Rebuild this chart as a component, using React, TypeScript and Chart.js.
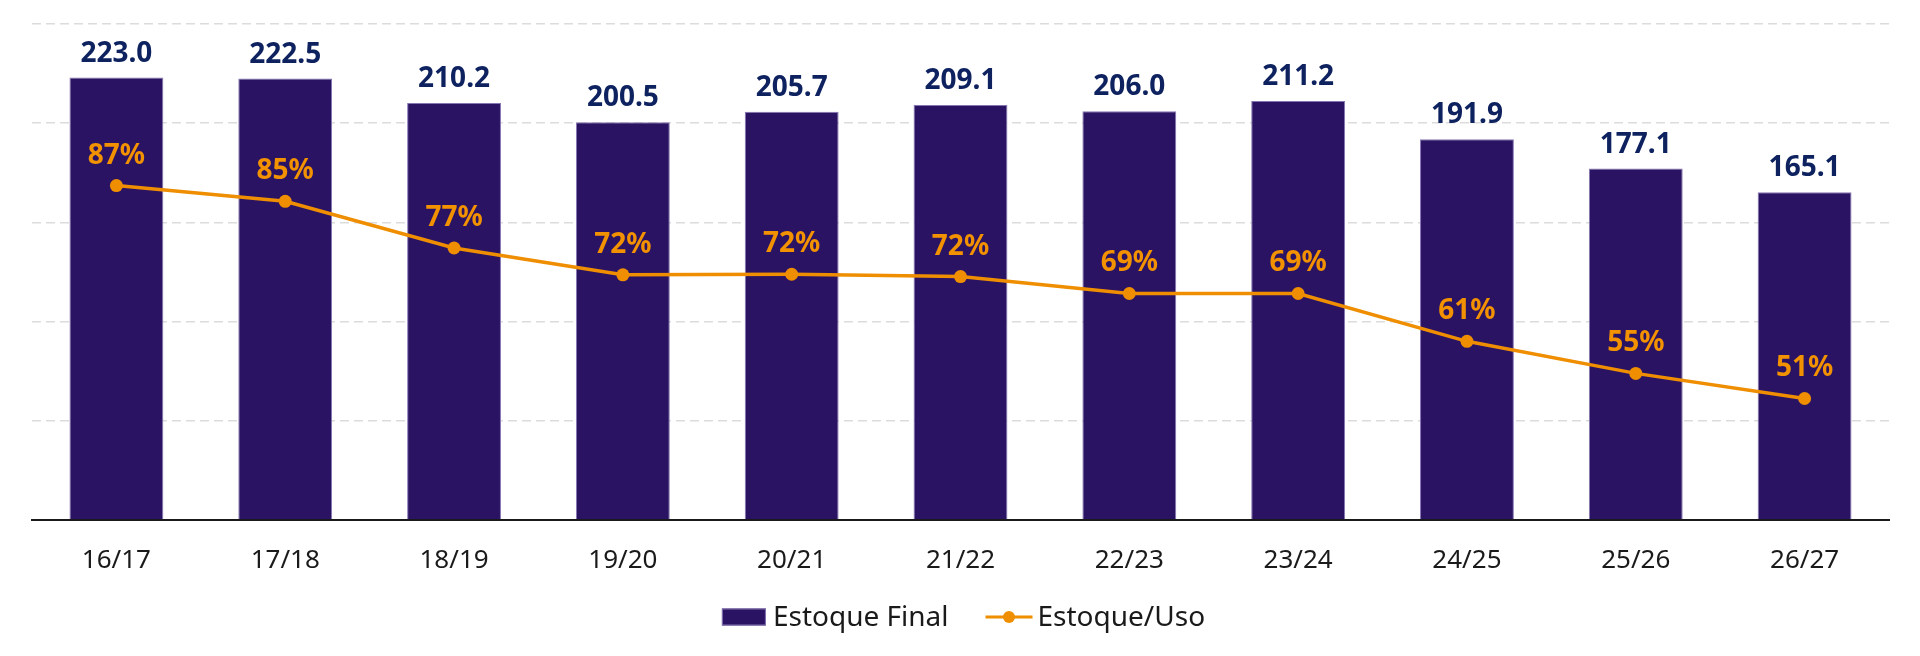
import { useEffect, useRef } from "react";
import { Chart, registerables } from "chart.js";

Chart.register(...registerables);

// dados
const safras = ["16/17", "17/18", "18/19", "19/20", "20/21", "21/22", "22/23", "23/24", "24/25", "25/26", "26/27"];
const estoqueFinal = [223.0, 222.5, 210.2, 200.5, 205.7, 209.1, 206.0, 211.2, 191.9, 177.1, 165.1];
const estoqueUso = [87.3, 84.6, 76.6, 72.0, 72.1, 71.7, 68.8, 68.8, 60.6, 55.1, 50.8];

const ROXO = "#2B1363";
const BORDA_ROXO = "#8576B3";
const LARANJA = "#EE8E00";
const LARANJA_TEXTO = "#F39200";
const AZUL_TEXTO = "#0E2260";
const TEXTO = "#1a1a1a";

// rótulos de valor em cima das barras e dos pontos
const rotulos = {
  id: "rotulos",
  afterDatasetsDraw(chart: Chart) {
    const ctx = chart.ctx;
    ctx.save();
    ctx.textAlign = "center";
    ctx.textBaseline = "alphabetic";
    ctx.font = "bold 28px 'Noto Sans'";
    chart.getDatasetMeta(0).data.forEach((bar: any, i: number) => {
      ctx.fillStyle = AZUL_TEXTO;
      ctx.fillText(estoqueFinal[i].toFixed(1), bar.x, bar.y - 16);
    });
    chart.getDatasetMeta(1).data.forEach((pt: any, i: number) => {
      ctx.fillStyle = LARANJA_TEXTO;
      ctx.fillText(`${Math.round(estoqueUso[i])}%`, pt.x, pt.y - 22);
    });
    ctx.restore();
  },
};

// legenda desenhada à mão (caixa da barra e linha com ponto)
const legenda = {
  id: "legenda",
  afterDraw(chart: Chart) {
    const ctx = chart.ctx;
    const nomes = chart.data.datasets.map((d: any) => d.label as string);
    ctx.save();
    ctx.font = "28px 'Noto Sans'";
    ctx.textBaseline = "middle";
    ctx.textAlign = "left";
    const w1 = ctx.measureText(nomes[0]).width;
    const w2 = ctx.measureText(nomes[1]).width;
    const total = 44 + 7 + w1 + 37 + 47 + 5 + w2;
    const cx = (chart.chartArea.left + chart.chartArea.right) / 2 + 3;
    const y = 617;
    let x = cx - total / 2;

    ctx.fillStyle = ROXO;
    ctx.fillRect(x, y - 8.5, 44, 17);
    ctx.strokeStyle = BORDA_ROXO;
    ctx.lineWidth = 1;
    ctx.strokeRect(x + 0.5, y - 8, 43, 16);
    x += 44 + 7;
    ctx.fillStyle = TEXTO;
    ctx.fillText(nomes[0], x, y + 1);
    x += w1 + 37;

    ctx.strokeStyle = LARANJA;
    ctx.lineWidth = 3;
    ctx.beginPath();
    ctx.moveTo(x, y);
    ctx.lineTo(x + 47, y);
    ctx.stroke();
    ctx.fillStyle = LARANJA;
    ctx.beginPath();
    ctx.arc(x + 23.5, y, 6, 0, Math.PI * 2);
    ctx.fill();
    x += 47 + 5;
    ctx.fillStyle = TEXTO;
    ctx.fillText(nomes[1], x, y + 1);
    ctx.restore();
  },
};

export default function App() {
  const canvasRef = useRef<HTMLCanvasElement>(null);
  const chartRef = useRef<Chart | null>(null);

  useEffect(() => {
    document.body.style.margin = "0";
    if (!canvasRef.current) return;
    const ctx = canvasRef.current.getContext("2d");
    if (!ctx) return;

    if (chartRef.current) chartRef.current.destroy();

    chartRef.current = new Chart(ctx, {
      type: "bar",
      data: {
        labels: safras,
        datasets: [
          {
            type: "bar",
            label: "Estoque Final",
            data: estoqueFinal,
            backgroundColor: ROXO,
            borderColor: BORDA_ROXO,
            borderWidth: 1,
            barPercentage: 0.556,
            categoryPercentage: 1,
            yAxisID: "y",
            order: 2,
          },
          {
            type: "line",
            label: "Estoque/Uso",
            data: estoqueUso,
            borderColor: LARANJA,
            backgroundColor: LARANJA,
            borderWidth: 3.5,
            pointRadius: 6.5,
            pointHoverRadius: 6.5,
            pointBorderWidth: 0,
            pointBackgroundColor: LARANJA,
            tension: 0,
            yAxisID: "y2",
            order: 1,
          },
        ],
      } as any,
      options: {
        responsive: false,
        animation: false,
        layout: { padding: { top: 24, left: 32, right: 31, bottom: 63 } },
        plugins: {
          tooltip: { enabled: false },
          legend: { display: false },
        },
        scales: {
          x: {
            grid: { display: false },
            border: { display: true, color: TEXTO, width: 2 },
            ticks: {
              color: TEXTO,
              padding: 17,
              font: { family: "'Noto Sans'", size: 26 },
            },
          },
          y: {
            min: 0,
            max: 250,
            ticks: { display: false, stepSize: 50 },
            grid: { color: "#dcdcdc", lineWidth: 1.5, drawTicks: false },
            border: { display: false, dash: [9, 5] },
          },
          y2: {
            position: "right",
            min: 30,
            max: 115,
            display: false,
          },
        },
      } as any,
      plugins: [rotulos, legenda],
    });

    return () => {
      if (chartRef.current) {
        chartRef.current.destroy();
        chartRef.current = null;
      }
    };
  }, []);

  return (
    <div style={{ width: 1920, height: 656, background: "#ffffff" }}>
      <canvas ref={canvasRef} width={1920} height={656} />
    </div>
  );
}
